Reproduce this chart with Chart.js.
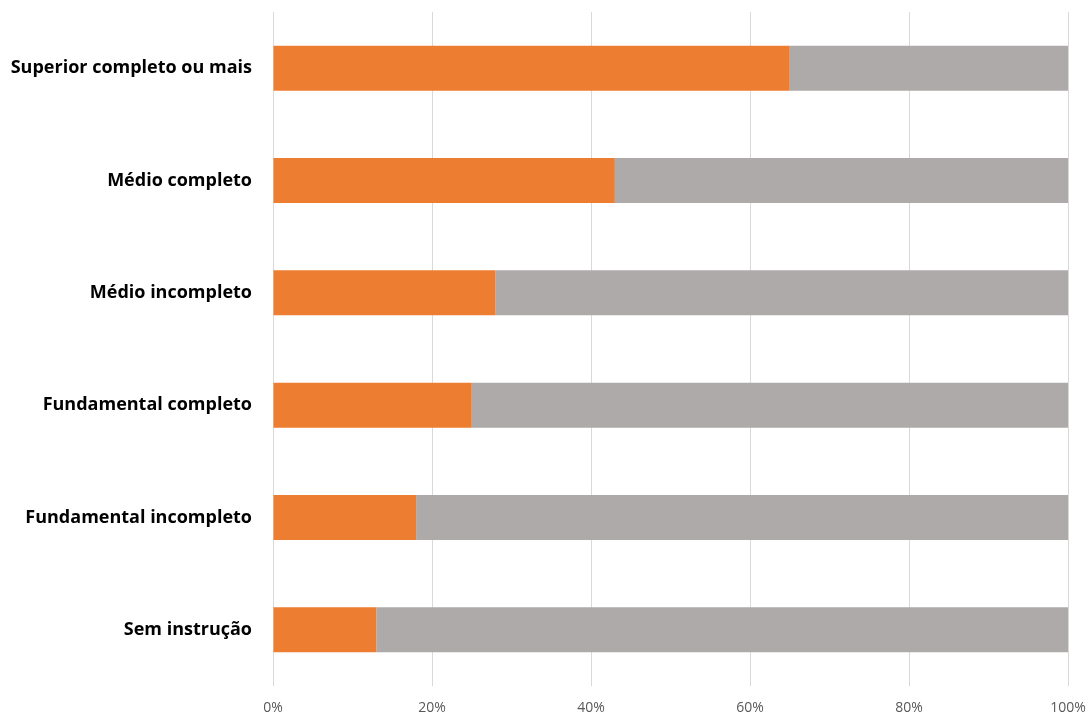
<!DOCTYPE html>
<html>
<head>
<meta charset="utf-8">
<script src="https://cdn.jsdelivr.net/npm/chart.js@4/dist/chart.umd.min.js"></script>
<style>
  body { margin: 0; background: #fff; }
  #box { width: 1088px; height: 714px; }
</style>
</head>
<body>
<div id="box"><canvas id="grafico"></canvas></div>
<script>
// categorias e valores (%)
const categorias = ['Superior completo ou mais', 'Médio completo', 'Médio incompleto',
    'Fundamental completo', 'Fundamental incompleto', 'Sem instrução']
const laranja = [65, 43, 28, 25, 18, 13]
const cinza = [35, 57, 72, 75, 82, 87]
const ticksX = [0, 20, 40, 60, 80, 100]

let ctx = document.getElementById('grafico').getContext('2d')

new Chart(ctx, {
    type: 'bar',
    data: {
        labels: categorias,
        datasets: [{
            data: laranja,
            backgroundColor: '#ED7D31',
            categoryPercentage: 1,
            barPercentage: 0.4
        }, {
            data: cinza,
            backgroundColor: '#AEAAAA',
            categoryPercentage: 1,
            barPercentage: 0.4
        }]
    },
    options: {
        indexAxis: 'y',
        responsive: true,
        maintainAspectRatio: false,
        animation: false,
        layout: { padding: { top: 12, right: 20, bottom: 0, left: 0 } },
        plugins: {
            legend: { display: false },
            tooltip: { enabled: false }
        },
        scales: {
            x: {
                stacked: true,
                min: 0,
                max: 100,
                afterBuildTicks: (axis) => { axis.ticks = ticksX.map(v => ({ value: v })) },
                afterFit: (axis) => { axis.height = 28; axis.paddingLeft = 0; axis.paddingRight = 0 },
                grid: { color: '#D9D9D9', lineWidth: 1, drawTicks: false },
                border: { display: false },
                ticks: {
                    padding: 14,
                    color: '#595959',
                    font: { family: 'Open Sans', size: 14 },
                    callback: (v) => v + '%'
                }
            },
            y: {
                stacked: true,
                grid: { display: false },
                border: { display: false },
                afterFit: (axis) => { axis.width = 273; axis.paddingTop = 0; axis.paddingBottom = 0 },
                ticks: {
                    padding: 13,
                    color: '#000',
                    font: { family: 'Open Sans', size: 18, weight: 'bold' }
                }
            }
        }
    }
})
</script>
</body>
</html>
